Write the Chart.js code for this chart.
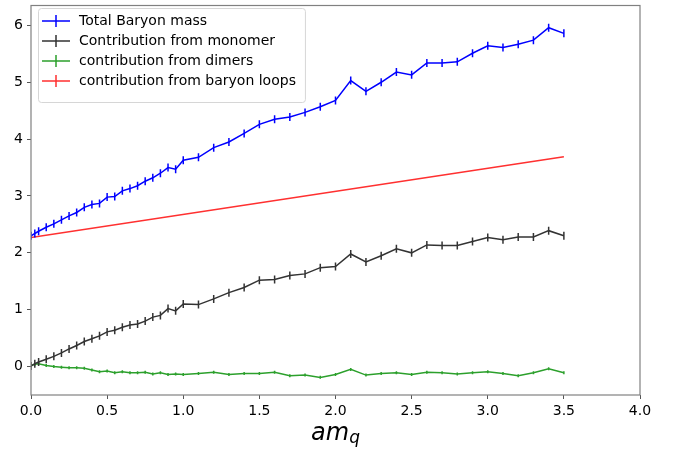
<!DOCTYPE html>
<html>
<head>
<meta charset="utf-8">
<script src="https://cdn.jsdelivr.net/npm/chart.js@4.4.1/dist/chart.umd.min.js"></script>
<style>
  body { margin: 0; background: #fff; }
  #wrap { width: 677px; height: 453px; }
</style>
</head>
<body>
<div id="wrap"><canvas id="myChart" width="677" height="453"></canvas></div>
<script>
// quark mass values (x axis)
let amq = [0, 0.025, 0.05, 0.1, 0.15, 0.2, 0.25, 0.3, 0.35, 0.4, 0.45, 0.5, 0.55, 0.6, 0.65, 0.7, 0.75, 0.8, 0.85, 0.9, 0.95,
           1.0, 1.1, 1.2, 1.3, 1.4, 1.5, 1.6, 1.7, 1.8, 1.9, 2.0, 2.1, 2.2, 2.3, 2.4, 2.5, 2.6, 2.7, 2.8, 2.9, 3.0, 3.1, 3.2, 3.3, 3.4, 3.5];

let totalMass = [2.30, 2.34, 2.38, 2.45, 2.51, 2.58, 2.65, 2.71, 2.80, 2.85, 2.87, 2.98, 2.99, 3.09, 3.13, 3.18, 3.26, 3.32, 3.40, 3.50, 3.47,
                 3.63, 3.68, 3.85, 3.95, 4.10, 4.26, 4.35, 4.39, 4.47, 4.57, 4.68, 5.03, 4.84, 5.00, 5.18, 5.13, 5.34, 5.34, 5.36, 5.51, 5.64, 5.61, 5.67, 5.74, 5.96, 5.86];

let monomer = [0.01, 0.05, 0.08, 0.13, 0.18, 0.24, 0.31, 0.37, 0.44, 0.49, 0.54, 0.61, 0.64, 0.69, 0.73, 0.75, 0.80, 0.87, 0.90, 1.02, 0.98,
               1.10, 1.09, 1.19, 1.30, 1.39, 1.52, 1.53, 1.60, 1.63, 1.74, 1.76, 1.98, 1.84, 1.95, 2.07, 2.00, 2.14, 2.13, 2.13, 2.20, 2.27, 2.23, 2.28, 2.28, 2.39, 2.30];

let dimers = [0.02, 0.04, 0.05, 0.02, 0.00, -0.01, -0.02, -0.02, -0.03, -0.06, -0.09, -0.08, -0.11, -0.09, -0.11, -0.11, -0.10, -0.13, -0.11, -0.14, -0.13,
              -0.14, -0.12, -0.10, -0.14, -0.12, -0.12, -0.10, -0.16, -0.15, -0.19, -0.14, -0.05, -0.15, -0.12, -0.11, -0.14, -0.10, -0.11, -0.13, -0.11, -0.09, -0.12, -0.16, -0.11, -0.04, -0.11];

// baryon loop contribution is a straight line
let loopsX = [0, 3.5];
let loops = [2.27, 3.69];

let xTicks = [0, 0.5, 1.0, 1.5, 2.0, 2.5, 3.0, 3.5, 4.0];
let yTicks = [0, 1, 2, 3, 4, 5, 6];

let labels = ["Total Baryon mass", "Contribution from monomer", "contribution from dimers", "contribution from baryon loops"];
let colors = ["#0000ff", "#333333", "#2ca02c", "#ff3030"];

const FONT = "'DejaVu Sans', sans-serif";

// little errorbar symbol for the legend
let legendSymbol = function(color) {
    let c = document.createElement("canvas");
    c.width = 28;
    c.height = 14;
    let ctx = c.getContext("2d");
    ctx.strokeStyle = color;
    ctx.lineWidth = 1.5;
    ctx.beginPath();
    ctx.moveTo(0, 7); ctx.lineTo(28, 7);
    ctx.moveTo(14, 1); ctx.lineTo(14, 13);
    ctx.stroke();
    return c;
}

let toPoints = (xs, ys) => xs.map((x, i) => ({x: x, y: ys[i]}));

// legend nudge inside the plot (vertical legend in chartArea starts at top 0)
const LEG_DX = 3, LEG_DY = 8;

const framePlugin = {
    id: "frame",
    afterLayout(chart) {
        chart.legend.left += LEG_DX;
        chart.legend.top += LEG_DY;
    },
    beforeDraw(chart) {
        let ctx = chart.ctx;
        ctx.save();
        ctx.fillStyle = "#fff";
        ctx.fillRect(0, 0, chart.width, chart.height);
        // legend box
        let hb = chart.legend.legendHitBoxes;
        let right = Math.max(...hb.map(h => h.left + h.width)) + LEG_DX + 6;
        let left = chart.legend.left + 4;
        let top = chart.legend.top;
        let bottom = hb[hb.length - 1].top + LEG_DY + 7 + 13;
        ctx.beginPath();
        ctx.roundRect(left + 0.5, top + 0.5, right - left, bottom - top, 3);
        ctx.fillStyle = "#fff";
        ctx.fill();
        ctx.strokeStyle = "#d6d6d6";
        ctx.lineWidth = 1;
        ctx.stroke();
        ctx.restore();
    },
    afterDraw(chart) {
        let ctx = chart.ctx;
        let a = chart.chartArea;
        ctx.save();
        ctx.strokeStyle = "#808080";
        ctx.lineWidth = 1.2;
        ctx.strokeRect(a.left, a.top, a.right - a.left, a.bottom - a.top);
        // x axis title: am_q
        let cx = (a.left + a.right) / 2;
        ctx.fillStyle = "#000";
        ctx.textBaseline = "alphabetic";
        ctx.font = "oblique 24px " + FONT;
        let w1 = ctx.measureText("am").width;
        ctx.font = "oblique 17px " + FONT;
        let w2 = ctx.measureText("q").width;
        let x0 = cx - (w1 + w2) / 2;
        ctx.font = "oblique 24px " + FONT;
        ctx.fillText("am", x0, 440);
        ctx.font = "oblique 17px " + FONT;
        ctx.fillText("q", x0 + w1, 443);
        ctx.restore();
    }
};

const myChart = new Chart(document.getElementById("myChart"), {
    type: "scatter",
    data: {
        datasets: [
            {
                label: labels[0],
                data: toPoints(amq, totalMass),
                borderColor: colors[0],
                backgroundColor: colors[0],
                showLine: true,
                borderWidth: 1.5,
                pointStyle: "line",
                rotation: 90,
                pointRadius: 4,
                pointBorderWidth: 1.5,
            },
            {
                label: labels[1],
                data: toPoints(amq, monomer),
                borderColor: colors[1],
                backgroundColor: colors[1],
                showLine: true,
                borderWidth: 1.5,
                pointStyle: "line",
                rotation: 90,
                pointRadius: 4,
                pointBorderWidth: 1.5,
            },
            {
                label: labels[2],
                data: toPoints(amq, dimers),
                borderColor: colors[2],
                backgroundColor: colors[2],
                showLine: true,
                borderWidth: 1.5,
                pointStyle: "line",
                rotation: 90,
                pointRadius: 1.5,
                pointBorderWidth: 1.5,
            },
            {
                label: labels[3],
                data: toPoints(loopsX, loops),
                borderColor: colors[3],
                backgroundColor: colors[3],
                showLine: true,
                borderWidth: 1.6,
                pointRadius: 0,
            },
        ],
    },
    options: {
        responsive: false,
        animation: false,
        layout: { padding: { left: 0, top: 2, right: 37, bottom: 0 } },
        plugins: {
            tooltip: { enabled: false },
            legend: {
                position: "chartArea",
                align: "start",
                labels: {
                    usePointStyle: true,
                    pointStyleWidth: 32,
                    padding: 6,
                    color: "#000",
                    font: { family: FONT, size: 14 },
                    generateLabels: (chart) => chart.data.datasets.map((ds, i) => ({
                        text: ds.label,
                        pointStyle: legendSymbol(colors[i]),
                        fillStyle: colors[i],
                        strokeStyle: colors[i],
                        lineWidth: 0,
                        datasetIndex: i,
                        hidden: false,
                    })),
                },
            },
        },
        scales: {
            x: {
                type: "linear",
                min: 0,
                max: 4,
                afterBuildTicks: (axis) => { axis.ticks = xTicks.map(v => ({value: v})); },
                afterFit: (scale) => { scale.height = 58; },
                border: { display: false },
                grid: { drawOnChartArea: false, drawTicks: true, tickLength: 4, color: "#555" },
                ticks: {
                    padding: 4,
                    color: "#000",
                    maxRotation: 0,
                    font: { family: FONT, size: 14 },
                    callback: (v) => Number(v).toFixed(1),
                },
            },
            y: {
                type: "linear",
                min: -0.5,
                max: 6.35,
                afterBuildTicks: (axis) => { axis.ticks = yTicks.map(v => ({value: v})); },
                afterFit: (scale) => {
                    scale.width = 31;
                    scale.paddingTop = 0;
                    scale.paddingBottom = 0;
                },
                border: { display: false },
                grid: { drawOnChartArea: false, drawTicks: true, tickLength: 4, color: "#555" },
                ticks: {
                    padding: 4,
                    color: "#000",
                    font: { family: FONT, size: 14 },
                    callback: (v) => String(v),
                },
            },
        },
    },
    plugins: [framePlugin],
});
</script>
</body>
</html>
